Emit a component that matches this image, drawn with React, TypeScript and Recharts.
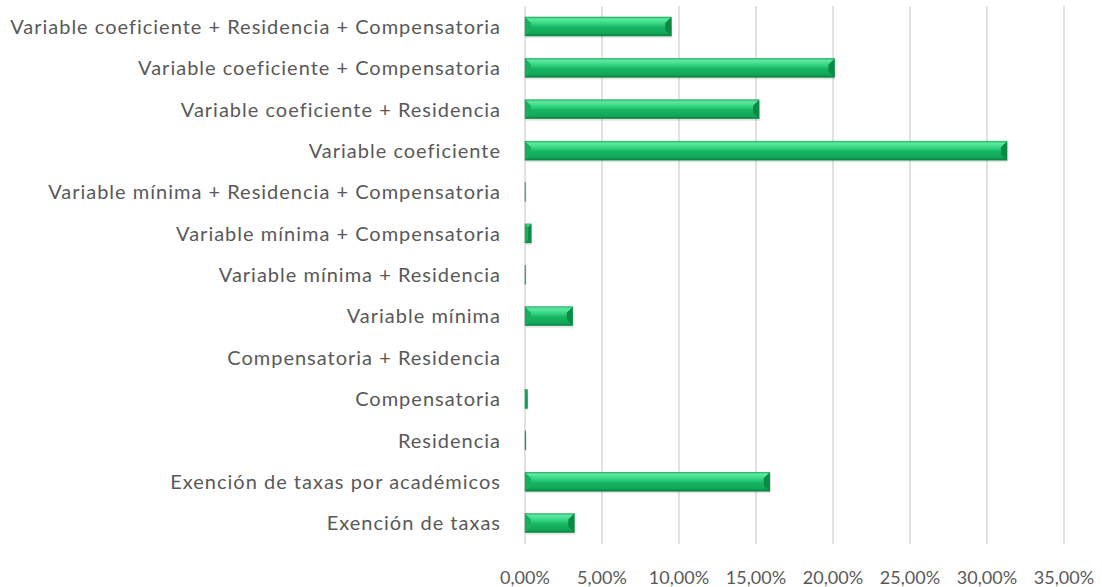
import { BarChart, Bar, XAxis, YAxis, CartesianGrid } from "recharts"

const categories = [
  "Variable coeficiente + Residencia + Compensatoria",
  "Variable coeficiente + Compensatoria",
  "Variable coeficiente + Residencia",
  "Variable coeficiente",
  "Variable mínima + Residencia + Compensatoria",
  "Variable mínima + Compensatoria",
  "Variable mínima + Residencia",
  "Variable mínima",
  "Compensatoria + Residencia",
  "Compensatoria",
  "Residencia",
  "Exención de taxas por académicos",
  "Exención de taxas",
]

const shares = [
  0.095, 0.201, 0.152, 0.313, 0.0002, 0.004, 0.0003, 0.031, 0, 0.0015, 0.0005, 0.159, 0.032,
]

const xTicks = [0, 0.05, 0.1, 0.15, 0.2, 0.25, 0.3, 0.35]

const data = categories.map((name, i) => ({ name, value: shares[i] }))

const font = "Lato, 'Open Sans', sans-serif"

function fmt(v: number) {
  return (v * 100).toFixed(2).replace(".", ",") + "%"
}

function BevelBar(props: any) {
  const { x, y, width, height } = props
  if (!width || width <= 0) return null
  const b = Math.min(6, width / 2)
  return (
    <g>
      <rect x={x + 1} y={y + 2} width={width} height={height} fill="#000" opacity={0.1} />
      <rect x={x} y={y} width={width} height={height} fill="url(#barGrad)" />
      <polygon
        points={`${x + width - b},${y + b} ${x + width},${y} ${x + width},${y + height} ${x + width - b},${y + height - b}`}
        fill="#0b8a45"
      />
      <polygon
        points={`${x},${y} ${x + b},${y + b} ${x + b},${y + height - b} ${x},${y + height}`}
        fill="#18b060"
      />
      <rect x={x} y={y} width={width} height={height} fill="none" stroke="#12954e" strokeWidth={0.5} />
    </g>
  )
}

export default function App() {
  return (
    <div style={{ position: "absolute", left: 0, top: 0, background: "#fff" }}>
      <BarChart
        width={1102}
        height={587}
        data={data}
        layout="vertical"
        margin={{ top: 6, right: 38, bottom: 13, left: 0 }}
      >
        <defs>
          <linearGradient id="barGrad" x1="0" y1="0" x2="0" y2="1">
            <stop offset="0%" stopColor="#2cc774" />
            <stop offset="12%" stopColor="#5ee8a0" />
            <stop offset="35%" stopColor="#33d47f" />
            <stop offset="55%" stopColor="#16b462" />
            <stop offset="85%" stopColor="#11a758" />
            <stop offset="100%" stopColor="#0a7e3e" />
          </linearGradient>
        </defs>
        <CartesianGrid horizontal={false} stroke="#d9d9d9" strokeWidth={1.5} />
        <XAxis
          type="number"
          domain={[0, 0.35]}
          ticks={xTicks}
          tickFormatter={fmt}
          axisLine={false}
          tickLine={false}
          tickMargin={21}
          height={30}
          tick={{ fill: "#595959", fontSize: 18, fontFamily: font }}
        />
        <YAxis
          type="category"
          dataKey="name"
          width={525}
          axisLine={false}
          tickLine={false}
          tickMargin={18}
          interval={0}
          tick={{ fill: "#595959", fontSize: 20, fontFamily: font, letterSpacing: 1 }}
        />
        <Bar dataKey="value" barSize={19} shape={BevelBar} isAnimationActive={false} />
      </BarChart>
    </div>
  )
}
